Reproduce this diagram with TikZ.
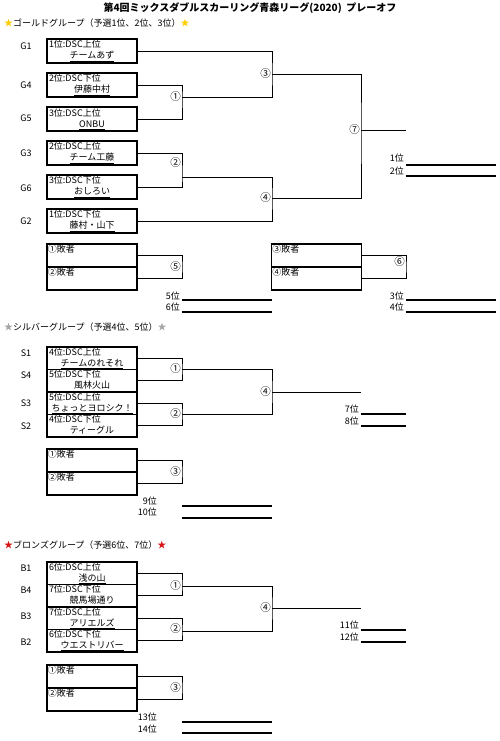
\documentclass[tikz,border=0pt]{standalone}
\usepackage{fontspec}
\setmainfont{Noto Sans CJK JP}
\usetikzlibrary{positioning}
\definecolor{stargold}{RGB}{255,204,0}
\definecolor{starsilver}{RGB}{165,165,165}
\definecolor{starbronze}{RGB}{215,20,20}
\newcommand{\entry}[2]{\makebox[86pt][l]{#1}\\\makebox[86pt][c]{\underline{#2}}}

\begin{document}
\begin{tikzpicture}[x=1pt,y=-1pt,font=\fontsize{9}{11}\selectfont,
  team/.style={draw,line width=1.5pt,minimum width=90pt,inner sep=0pt,align=center},
  gteam/.style={team,minimum height=24pt},
  steam/.style={team,minimum height=22.5pt},
  lose/.style={draw,line width=1.5pt,minimum width=90pt,minimum height=23pt},
  lab/.style={anchor=north west,inner sep=1.5pt},
  tag/.style={inner sep=0pt},
  num/.style={left,inner sep=1pt,font=\fontsize{10.5}{12}\selectfont},
  rank/.style={anchor=east,inner sep=0pt},
  blank/.style={line width=1.6pt},
  br/.style={line width=0.7pt},
  head/.style={anchor=west,inner sep=0pt}]
  \useasboundingbox (0,0) rectangle (500,741);

  \node (title) at (250,8)
    {\bfseries\fontsize{10}{12}\selectfont 第4回ミックスダブルスカーリング青森リーグ(2020)\ \ プレーオフ};

  % gold
  \node[head] (hgold) at (4,23)
    {\textcolor{stargold}{★}ゴールドグループ（予選1位、2位、3位）\textcolor{stargold}{★}};
  \foreach \nm/\tg/\y/\ty/\rk/\tm in {g1/G1/51/46/1位:DSC上位/チームあず,
      g4/G4/85/85/2位:DSC下位/伊藤中村, g5/G5/119/118/3位:DSC上位/ONBU,
      g3/G3/153/153/2位:DSC上位/チーム工藤, g6/G6/187/188/3位:DSC下位/おしろい,
      g2/G2/221/221/1位:DSC下位/藤村・山下}{
    \node[gteam] (\nm) at (92,\y) {\entry{\rk}{\tm}};
    \node[tag] (t\nm) at (26,\ty) {\tg};
  }
  \coordinate (m1) at (182,97);
  \coordinate (m2) at (182,177);
  \coordinate (m3) at (272,74);
  \coordinate (m4) at (272,198);
  \coordinate (m7) at (361,130);
  \coordinate (w7) at (406,130);
  \draw[br] (g4.east) -| (m1) |- (g5.east);
  \draw[br] (g3.east) -| (m2) |- (g6.east);
  \draw[br] (g1.east) -| (m3) |- (m1);
  \draw[br] (m2) -| (m4) |- (g2.east);
  \draw[br] (m3) -| (m7) |- (m4);
  \draw[br] (m7) -- (w7);
  \node[num] (n1) at (m1) {①};
  \node[num] (n2) at (182,163) {②};
  \node[num] (n3) at (m3) {③};
  \node[num] (n4) at (m4) {④};
  \node[num] (n7) at (m7) {⑦};
  \node[rank] (r1) at (404,158) {1位};
  \node[rank] (r2) at (404,171) {2位};
  \draw[blank] (406,165) -- (496,165);
  \draw[blank] (406,176) -- (496,176);

  \node[lose,label={[lab]north west:①敗者}] (gl1) at (92,255.5) {};
  \node[lose,label={[lab]north west:②敗者}] (gl2) at (92,278.5) {};
  \node[lose,label={[lab]north west:③敗者}] (gl3) at (316.5,255.5) {};
  \node[lose,label={[lab]north west:④敗者}] (gl4) at (316.5,278.5) {};
  \coordinate (m5) at (182,267);
  \coordinate (m6) at (406,267);
  \draw[br] (gl1.east) -| (m5) |- (gl2.east);
  \draw[br] (gl3.east) -| (m6) |- (gl4.east);
  \node[num] (n5) at (m5) {⑤};
  \node[num] (n6) at (406,262) {⑥};
  \node[rank] (r5) at (180,296) {5位};
  \node[rank] (r6) at (180,307) {6位};
  \draw[blank] (182,300) -- (272,300);
  \draw[blank] (182,312) -- (272,312);
  \node[rank] (r3) at (404,296) {3位};
  \node[rank] (r4) at (404,307) {4位};
  \draw[blank] (406,300) -- (496,300);
  \draw[blank] (406,312) -- (496,312);

  % silver
  \node[head] (hsilver) at (4,327)
    {\textcolor{starsilver}{★}シルバーグループ（予選4位、5位）\textcolor{starsilver}{★}};
  \foreach \nm/\tg/\y/\ty/\rk/\tm in {s1/S1/358.25/353/4位:DSC上位/チームのれそれ,
      s4/S4/380.75/375/5位:DSC下位/風林火山, s3/S3/403.25/403/5位:DSC上位/ちょっとヨロシク！,
      s2/S2/425.75/426/4位:DSC下位/ティーグル}{
    \node[steam] (\nm) at (92,\y) {\entry{\rk}{\tm}};
    \node[tag] (t\nm) at (26,\ty) {\tg};
  }
  \coordinate (sm1) at (182,369);
  \coordinate (sm2) at (182,414);
  \coordinate (sm4) at (272,392);
  \coordinate (sw4) at (361,392);
  \draw[br] (s1.east) -| (sm1) |- (s4.east);
  \draw[br] (s3.east) -| (sm2) |- (s2.east);
  \draw[br] (sm1) -| (sm4) |- (sm2);
  \draw[br] (sm4) -- (sw4);
  \node[num] (sn1) at (sm1) {①};
  \node[num] (sn2) at (sm2) {②};
  \node[num] (sn4) at (sm4) {④};
  \node[rank] (r7) at (359,409) {7位};
  \node[rank] (r8) at (359,421) {8位};
  \draw[blank] (361,414) -- (406,414);
  \draw[blank] (361,426) -- (406,426);

  \node[lose,label={[lab]north west:①敗者}] (sl1) at (92,460.5) {};
  \node[lose,label={[lab]north west:②敗者}] (sl2) at (92,483.5) {};
  \coordinate (sm3) at (182,472);
  \draw[br] (sl1.east) -| (sm3) |- (sl2.east);
  \node[num] (sn3) at (sm3) {③};
  \node[rank] (r9) at (157,501) {9位};
  \node[rank] (r10) at (157,512) {10位};
  \draw[blank] (182,506) -- (272,506);
  \draw[blank] (182,518) -- (272,518);

  % bronze
  \node[head] (hbronze) at (4,545)
    {\textcolor{starbronze}{★}ブロンズグループ（予選6位、7位）\textcolor{starbronze}{★}};
  \foreach \nm/\tg/\y/\ty/\rk/\tm in {b1/B1/573.25/568/6位:DSC上位/浅の山,
      b4/B4/595.75/590/7位:DSC下位/競馬場通り, b3/B3/618.25/616/7位:DSC上位/アリエルズ,
      b2/B2/640.75/642/6位:DSC下位/ウエストリバー}{
    \node[steam] (\nm) at (92,\y) {\entry{\rk}{\tm}};
    \node[tag] (t\nm) at (26,\ty) {\tg};
  }
  \coordinate (bm1) at (182,586);
  \coordinate (bm2) at (182,631);
  \coordinate (bm4) at (272,608);
  \coordinate (bw4) at (361,608);
  \draw[br] (b1.east) -| (bm1) |- (b4.east);
  \draw[br] (b3.east) -| (bm2) |- (b2.east);
  \draw[br] (bm1) -| (bm4) |- (bm2);
  \draw[br] (bm4) -- (bw4);
  \node[num] (bn1) at (bm1) {①};
  \node[num] (bn2) at (182,629) {②};
  \node[num] (bn4) at (bm4) {④};
  \node[rank] (r11) at (359,625) {11位};
  \node[rank] (r12) at (359,637) {12位};
  \draw[blank] (361,630) -- (406,630);
  \draw[blank] (361,642) -- (406,642);

  \node[lose,label={[lab]north west:①敗者}] (bl1) at (92,676.5) {};
  \node[lose,label={[lab]north west:②敗者}] (bl2) at (92,699.5) {};
  \coordinate (bm3) at (182,688);
  \draw[br] (bl1.east) -| (bm3) |- (bl2.east);
  \node[num] (bn3) at (bm3) {③};
  \node[rank] (r13) at (157,717) {13位};
  \node[rank] (r14) at (157,729) {14位};
  \draw[blank] (182,722) -- (272,722);
  \draw[blank] (182,733) -- (272,733);
\end{tikzpicture}
\end{document}
